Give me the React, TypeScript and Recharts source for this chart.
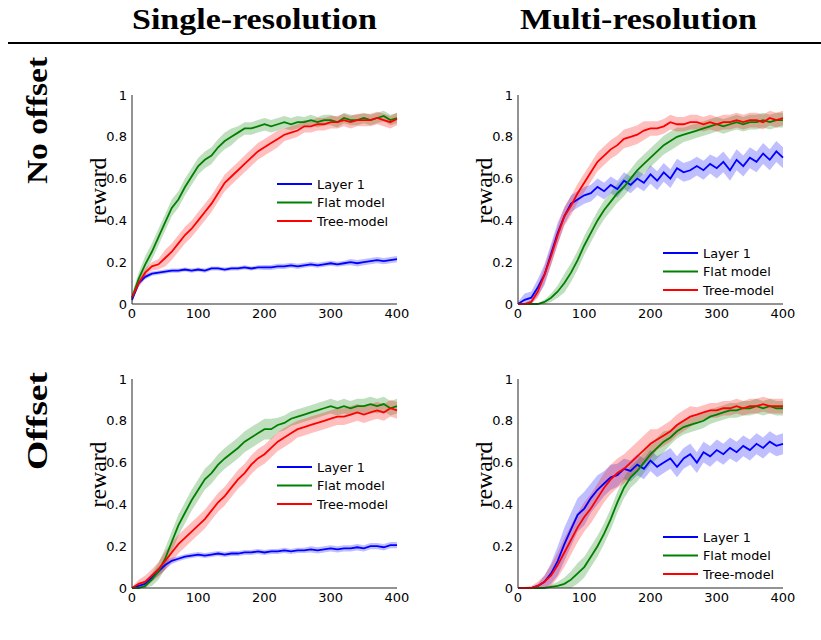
import React from 'react';
import { ComposedChart, Line, Area, XAxis, YAxis, Legend } from 'recharts';

const steps = [0, 10, 20, 30, 40, 50, 60, 70, 80, 90, 100, 110, 120, 130, 140, 150, 160, 170, 180, 190, 200, 210, 220, 230, 240, 250, 260, 270, 280, 290, 300, 310, 320, 330, 340, 350, 360, 370, 380, 390, 400];
const xTicks = [0, 100, 200, 300, 400];
const yTicks = [0, 0.2, 0.4, 0.6, 0.8, 1];
const seriesNames = ['Layer 1', 'Flat model', 'Tree-model'];
const seriesColors = ['#0000ff', '#008000', '#ff0000'];
const colHeaders = ['Single-resolution', 'Multi-resolution'];
const rowHeaders = ['No offset', 'Offset'];
const yLabel = 'reward';

// Single-resolution, no offset
const singleNoOffLayer1 = [0.02, 0.10, 0.13, 0.145, 0.15, 0.155, 0.16, 0.16, 0.165, 0.16, 0.165, 0.16, 0.17, 0.17, 0.165, 0.17, 0.17, 0.175, 0.17, 0.175, 0.175, 0.175, 0.18, 0.18, 0.185, 0.18, 0.185, 0.19, 0.185, 0.19, 0.195, 0.19, 0.195, 0.2, 0.195, 0.2, 0.205, 0.21, 0.205, 0.21, 0.215];
const singleNoOffLayer1Band = [0.01, 0.015, 0.012, 0.01, 0.01, 0.01, 0.01, 0.01, 0.01, 0.01, 0.01, 0.01, 0.01, 0.01, 0.01, 0.01, 0.01, 0.01, 0.01, 0.01, 0.012, 0.012, 0.012, 0.012, 0.012, 0.012, 0.012, 0.012, 0.012, 0.012, 0.012, 0.012, 0.012, 0.015, 0.015, 0.015, 0.015, 0.015, 0.015, 0.015, 0.015];
const singleNoOffFlat = [0.03, 0.12, 0.19, 0.25, 0.32, 0.39, 0.46, 0.50, 0.56, 0.61, 0.66, 0.69, 0.71, 0.75, 0.78, 0.80, 0.82, 0.84, 0.84, 0.85, 0.86, 0.85, 0.86, 0.87, 0.86, 0.87, 0.87, 0.88, 0.87, 0.88, 0.88, 0.87, 0.89, 0.88, 0.88, 0.89, 0.88, 0.89, 0.90, 0.88, 0.89];
const singleNoOffFlatBand = [0.02, 0.03, 0.04, 0.04, 0.04, 0.04, 0.04, 0.04, 0.04, 0.04, 0.04, 0.04, 0.04, 0.04, 0.04, 0.04, 0.03, 0.03, 0.03, 0.03, 0.03, 0.03, 0.03, 0.03, 0.03, 0.03, 0.025, 0.025, 0.025, 0.025, 0.025, 0.025, 0.025, 0.025, 0.025, 0.025, 0.025, 0.025, 0.025, 0.025, 0.025];
const singleNoOffTree = [0.03, 0.10, 0.15, 0.18, 0.19, 0.22, 0.25, 0.29, 0.33, 0.36, 0.40, 0.44, 0.48, 0.53, 0.58, 0.61, 0.64, 0.67, 0.70, 0.73, 0.75, 0.77, 0.79, 0.81, 0.82, 0.83, 0.85, 0.85, 0.86, 0.86, 0.87, 0.87, 0.88, 0.87, 0.88, 0.88, 0.88, 0.89, 0.88, 0.87, 0.885];
const singleNoOffTreeBand = [0.015, 0.02, 0.02, 0.02, 0.025, 0.04, 0.04, 0.04, 0.04, 0.04, 0.04, 0.04, 0.04, 0.04, 0.04, 0.04, 0.04, 0.04, 0.04, 0.04, 0.04, 0.04, 0.04, 0.03, 0.03, 0.03, 0.03, 0.03, 0.03, 0.03, 0.03, 0.03, 0.03, 0.03, 0.03, 0.03, 0.03, 0.03, 0.03, 0.03, 0.03];

// Multi-resolution, no offset
const multiNoOffLayer1 = [0.0, 0.02, 0.03, 0.08, 0.14, 0.24, 0.34, 0.42, 0.48, 0.50, 0.52, 0.53, 0.56, 0.54, 0.57, 0.55, 0.59, 0.57, 0.60, 0.58, 0.62, 0.59, 0.63, 0.60, 0.65, 0.63, 0.64, 0.66, 0.64, 0.67, 0.65, 0.68, 0.64, 0.69, 0.66, 0.70, 0.68, 0.72, 0.69, 0.73, 0.70];
const multiNoOffLayer1Band = [0.01, 0.03, 0.03, 0.04, 0.05, 0.05, 0.05, 0.04, 0.04, 0.04, 0.04, 0.04, 0.04, 0.04, 0.04, 0.04, 0.04, 0.04, 0.04, 0.04, 0.045, 0.045, 0.045, 0.045, 0.045, 0.045, 0.045, 0.045, 0.045, 0.045, 0.05, 0.05, 0.05, 0.05, 0.05, 0.05, 0.05, 0.05, 0.05, 0.05, 0.05];
const multiNoOffFlat = [0, 0, 0, 0, 0.01, 0.03, 0.06, 0.10, 0.15, 0.21, 0.28, 0.34, 0.40, 0.45, 0.49, 0.53, 0.56, 0.60, 0.64, 0.67, 0.70, 0.73, 0.76, 0.78, 0.80, 0.81, 0.82, 0.83, 0.84, 0.85, 0.86, 0.85, 0.86, 0.87, 0.86, 0.87, 0.87, 0.88, 0.87, 0.88, 0.88];
const multiNoOffFlatBand = [0, 0, 0, 0.005, 0.01, 0.02, 0.03, 0.045, 0.045, 0.045, 0.045, 0.045, 0.045, 0.045, 0.045, 0.045, 0.045, 0.045, 0.045, 0.045, 0.045, 0.045, 0.045, 0.045, 0.045, 0.035, 0.035, 0.035, 0.035, 0.035, 0.035, 0.035, 0.035, 0.035, 0.035, 0.035, 0.035, 0.035, 0.035, 0.035, 0.035];
const multiNoOffTree = [0, 0, 0.01, 0.06, 0.14, 0.23, 0.33, 0.42, 0.47, 0.53, 0.58, 0.63, 0.68, 0.71, 0.74, 0.76, 0.79, 0.80, 0.81, 0.83, 0.84, 0.84, 0.85, 0.87, 0.86, 0.86, 0.87, 0.87, 0.86, 0.87, 0.86, 0.87, 0.87, 0.88, 0.87, 0.88, 0.88, 0.87, 0.89, 0.88, 0.89];
const multiNoOffTreeBand = [0.005, 0.005, 0.01, 0.03, 0.04, 0.045, 0.045, 0.045, 0.045, 0.045, 0.045, 0.045, 0.045, 0.045, 0.045, 0.045, 0.045, 0.045, 0.045, 0.045, 0.035, 0.035, 0.035, 0.035, 0.035, 0.035, 0.035, 0.035, 0.035, 0.035, 0.035, 0.035, 0.035, 0.035, 0.035, 0.035, 0.035, 0.035, 0.035, 0.035, 0.035];

// Single-resolution, offset
const singleOffLayer1 = [0, 0.01, 0.02, 0.05, 0.08, 0.11, 0.13, 0.14, 0.15, 0.155, 0.16, 0.155, 0.16, 0.165, 0.16, 0.165, 0.165, 0.17, 0.17, 0.175, 0.17, 0.175, 0.175, 0.18, 0.175, 0.18, 0.18, 0.185, 0.18, 0.185, 0.19, 0.185, 0.19, 0.19, 0.195, 0.19, 0.2, 0.2, 0.195, 0.205, 0.205];
const singleOffLayer1Band = [0.005, 0.01, 0.01, 0.015, 0.02, 0.02, 0.015, 0.012, 0.012, 0.012, 0.012, 0.012, 0.012, 0.012, 0.012, 0.012, 0.012, 0.012, 0.012, 0.012, 0.012, 0.012, 0.012, 0.012, 0.012, 0.012, 0.012, 0.015, 0.015, 0.015, 0.015, 0.015, 0.015, 0.015, 0.015, 0.015, 0.015, 0.015, 0.015, 0.015, 0.015];
const singleOffFlat = [0, 0, 0.01, 0.04, 0.08, 0.14, 0.22, 0.30, 0.36, 0.42, 0.47, 0.52, 0.55, 0.59, 0.62, 0.645, 0.67, 0.70, 0.72, 0.74, 0.76, 0.76, 0.78, 0.79, 0.81, 0.82, 0.83, 0.84, 0.85, 0.86, 0.87, 0.86, 0.87, 0.86, 0.87, 0.87, 0.88, 0.87, 0.88, 0.86, 0.87];
const singleOffFlatBand = [0, 0.01, 0.02, 0.03, 0.04, 0.05, 0.05, 0.05, 0.05, 0.05, 0.05, 0.05, 0.05, 0.05, 0.05, 0.05, 0.05, 0.05, 0.05, 0.05, 0.05, 0.05, 0.035, 0.035, 0.035, 0.035, 0.035, 0.035, 0.035, 0.035, 0.035, 0.035, 0.035, 0.035, 0.035, 0.035, 0.035, 0.035, 0.035, 0.035, 0.035];
const singleOffTree = [0, 0.02, 0.03, 0.06, 0.09, 0.13, 0.17, 0.21, 0.24, 0.27, 0.30, 0.33, 0.37, 0.41, 0.44, 0.48, 0.52, 0.55, 0.59, 0.62, 0.64, 0.67, 0.70, 0.72, 0.74, 0.76, 0.77, 0.78, 0.79, 0.80, 0.81, 0.82, 0.82, 0.83, 0.84, 0.83, 0.84, 0.85, 0.84, 0.86, 0.85];
const singleOffTreeBand = [0.005, 0.02, 0.03, 0.03, 0.035, 0.045, 0.045, 0.045, 0.045, 0.045, 0.045, 0.045, 0.045, 0.045, 0.045, 0.045, 0.045, 0.045, 0.045, 0.045, 0.045, 0.045, 0.045, 0.045, 0.045, 0.04, 0.04, 0.04, 0.04, 0.04, 0.04, 0.04, 0.04, 0.04, 0.04, 0.04, 0.04, 0.04, 0.04, 0.04, 0.04];

// Multi-resolution, offset
const multiOffLayer1 = [0, 0, 0, 0.01, 0.03, 0.07, 0.13, 0.21, 0.28, 0.35, 0.38, 0.43, 0.47, 0.50, 0.53, 0.54, 0.57, 0.56, 0.59, 0.57, 0.61, 0.58, 0.60, 0.62, 0.58, 0.62, 0.64, 0.60, 0.65, 0.63, 0.66, 0.64, 0.67, 0.65, 0.68, 0.66, 0.69, 0.67, 0.70, 0.68, 0.69];
const multiOffLayer1Band = [0, 0, 0.005, 0.01, 0.03, 0.05, 0.07, 0.08, 0.08, 0.08, 0.08, 0.07, 0.07, 0.06, 0.06, 0.055, 0.05, 0.05, 0.05, 0.05, 0.05, 0.05, 0.05, 0.05, 0.05, 0.05, 0.05, 0.05, 0.05, 0.05, 0.05, 0.05, 0.05, 0.05, 0.05, 0.05, 0.05, 0.05, 0.05, 0.05, 0.05];
const multiOffFlat = [0, 0, 0, 0, 0, 0.005, 0.01, 0.02, 0.04, 0.07, 0.10, 0.15, 0.20, 0.26, 0.33, 0.41, 0.48, 0.53, 0.56, 0.60, 0.64, 0.67, 0.70, 0.72, 0.75, 0.77, 0.78, 0.79, 0.80, 0.82, 0.83, 0.84, 0.85, 0.85, 0.86, 0.86, 0.87, 0.86, 0.87, 0.86, 0.86];
const multiOffFlatBand = [0, 0, 0, 0, 0.005, 0.01, 0.02, 0.03, 0.04, 0.05, 0.05, 0.05, 0.05, 0.05, 0.05, 0.05, 0.05, 0.05, 0.05, 0.05, 0.05, 0.05, 0.05, 0.035, 0.035, 0.035, 0.035, 0.035, 0.035, 0.035, 0.035, 0.035, 0.035, 0.035, 0.035, 0.035, 0.035, 0.035, 0.035, 0.035, 0.035];
const multiOffTree = [0, 0, 0, 0.01, 0.03, 0.06, 0.11, 0.17, 0.23, 0.29, 0.34, 0.38, 0.43, 0.48, 0.52, 0.55, 0.57, 0.60, 0.63, 0.66, 0.69, 0.71, 0.73, 0.75, 0.78, 0.80, 0.82, 0.83, 0.84, 0.85, 0.85, 0.86, 0.86, 0.87, 0.86, 0.87, 0.87, 0.88, 0.87, 0.87, 0.87];
const multiOffTreeBand = [0, 0.005, 0.01, 0.02, 0.03, 0.05, 0.06, 0.07, 0.07, 0.07, 0.07, 0.07, 0.07, 0.07, 0.07, 0.07, 0.07, 0.07, 0.07, 0.07, 0.07, 0.05, 0.05, 0.05, 0.05, 0.05, 0.05, 0.035, 0.035, 0.035, 0.035, 0.035, 0.035, 0.035, 0.035, 0.035, 0.035, 0.035, 0.035, 0.035, 0.035];

const AXIS_COLOR = '#262626';
const SANS = "'DejaVu Sans', sans-serif";
const SERIF = "'Liberation Serif', 'Times New Roman', serif";

function buildRows(values: number[][], bands: number[][]) {
  return steps.map((s, i) => {
    const row: any = { step: s };
    values.forEach((v, k) => {
      row['s' + k] = v[i];
      row['b' + k] = [Math.max(0, v[i] - bands[k][i]), Math.min(1, v[i] + bands[k][i])];
    });
    return row;
  });
}

const panels = [
  { left: 82, top: 80, legendTop: 95, data: buildRows([singleNoOffLayer1, singleNoOffFlat, singleNoOffTree], [singleNoOffLayer1Band, singleNoOffFlatBand, singleNoOffTreeBand]) },
  { left: 468, top: 80, legendTop: 164, data: buildRows([multiNoOffLayer1, multiNoOffFlat, multiNoOffTree], [multiNoOffLayer1Band, multiNoOffFlatBand, multiNoOffTreeBand]) },
  { left: 82, top: 364, legendTop: 94, data: buildRows([singleOffLayer1, singleOffFlat, singleOffTree], [singleOffLayer1Band, singleOffFlatBand, singleOffTreeBand]) },
  { left: 468, top: 364, legendTop: 164, data: buildRows([multiOffLayer1, multiOffFlat, multiOffTree], [multiOffLayer1Band, multiOffFlatBand, multiOffTreeBand]) },
];

const LegendBox = () => (
  <svg width={130} height={58} style={{ display: 'block' }}>
    {seriesNames.map((n, i) => (
      <g key={n}>
        <line x1={0} x2={35} y1={9 + i * 18.5} y2={9 + i * 18.5} stroke={seriesColors[i]} strokeWidth={2} />
        <text x={40} y={9 + i * 18.5} dy="0.36em" fontFamily={SANS} fontSize={12.8} fill="#000">{n}</text>
      </g>
    ))}
  </svg>
);

const YLabel = (props: any) => {
  const vb = props.viewBox || { x: 0, y: 15, width: 50, height: 209 };
  const cx = vb.x + 23.5;
  const cy = vb.y + vb.height / 2 - 9;
  return (
    <text x={cx} y={cy} transform={`rotate(-90 ${cx} ${cy})`} textAnchor="middle" fontFamily={SERIF} fontSize={23} fill="#000" textLength={66} lengthAdjust="spacingAndGlyphs">
      {yLabel}
    </text>
  );
};

function Panel({ left, top, legendTop, data }: any) {
  return (
    <div style={{ position: 'absolute', left, top }}>
      <ComposedChart width={330} height={250} data={data} margin={{ top: 15, right: 15, bottom: 6, left: 0 }}>
        <XAxis
          dataKey="step"
          type="number"
          domain={[0, 400]}
          ticks={xTicks}
          height={20}
          tickLine={false}
          tickSize={0}
          tickMargin={5}
          axisLine={{ stroke: AXIS_COLOR }}
          tick={{ fill: '#000', fontSize: 13, fontFamily: SANS }}
        />
        <YAxis
          type="number"
          domain={[0, 1]}
          ticks={yTicks}
          width={50}
          tickLine={false}
          tickSize={0}
          tickMargin={5}
          axisLine={{ stroke: AXIS_COLOR }}
          tick={{ fill: '#000', fontSize: 13, fontFamily: SANS }}
          tickFormatter={(v: number) => String(Number(v.toFixed(1)))}
          label={{ content: YLabel } as any}
        />
        {seriesNames.map((n, k) => (
          <Area
            key={'band' + k}
            dataKey={'b' + k}
            type="linear"
            stroke="none"
            fill={seriesColors[k]}
            fillOpacity={0.25}
            isAnimationActive={false}
            legendType="none"
            activeDot={false}
          />
        ))}
        {seriesNames.map((n, k) => (
          <Line
            key={'line' + k}
            dataKey={'s' + k}
            name={n}
            type="linear"
            stroke={seriesColors[k]}
            strokeWidth={1.8}
            dot={false}
            activeDot={false}
            isAnimationActive={false}
          />
        ))}
        <Legend
          layout="vertical"
          align="center"
          verticalAlign="middle"
          content={() => <LegendBox />}
          wrapperStyle={{ position: 'absolute', left: 195, top: legendTop, width: 130, height: 58 }}
        />
      </ComposedChart>
    </div>
  );
}

export default function App() {
  return (
    <div style={{ position: 'absolute', left: 0, top: 0, width: 821, height: 640, background: '#fff', overflow: 'hidden' }}>
      <svg width={821} height={640} style={{ position: 'absolute', left: 0, top: 0 }}>
        <text x={132} y={28.5} fontFamily={SERIF} fontWeight="bold" fontSize={29} fill="#000" textLength={245} lengthAdjust="spacingAndGlyphs">{colHeaders[0]}</text>
        <text x={520} y={28.5} fontFamily={SERIF} fontWeight="bold" fontSize={29} fill="#000" textLength={237} lengthAdjust="spacingAndGlyphs">{colHeaders[1]}</text>
        <line x1={8} x2={821} y1={43} y2={43} stroke="#000" strokeWidth={2} />
        <text x={0} y={0} transform="translate(47 184) rotate(-90)" fontFamily={SERIF} fontWeight="bold" fontSize={29} fill="#000" textLength={127} lengthAdjust="spacingAndGlyphs">{rowHeaders[0]}</text>
        <text x={0} y={0} transform="translate(47 470) rotate(-90)" fontFamily={SERIF} fontWeight="bold" fontSize={29} fill="#000" textLength={98} lengthAdjust="spacingAndGlyphs">{rowHeaders[1]}</text>
      </svg>
      {panels.map((p, i) => (
        <Panel key={i} {...p} />
      ))}
    </div>
  );
}
